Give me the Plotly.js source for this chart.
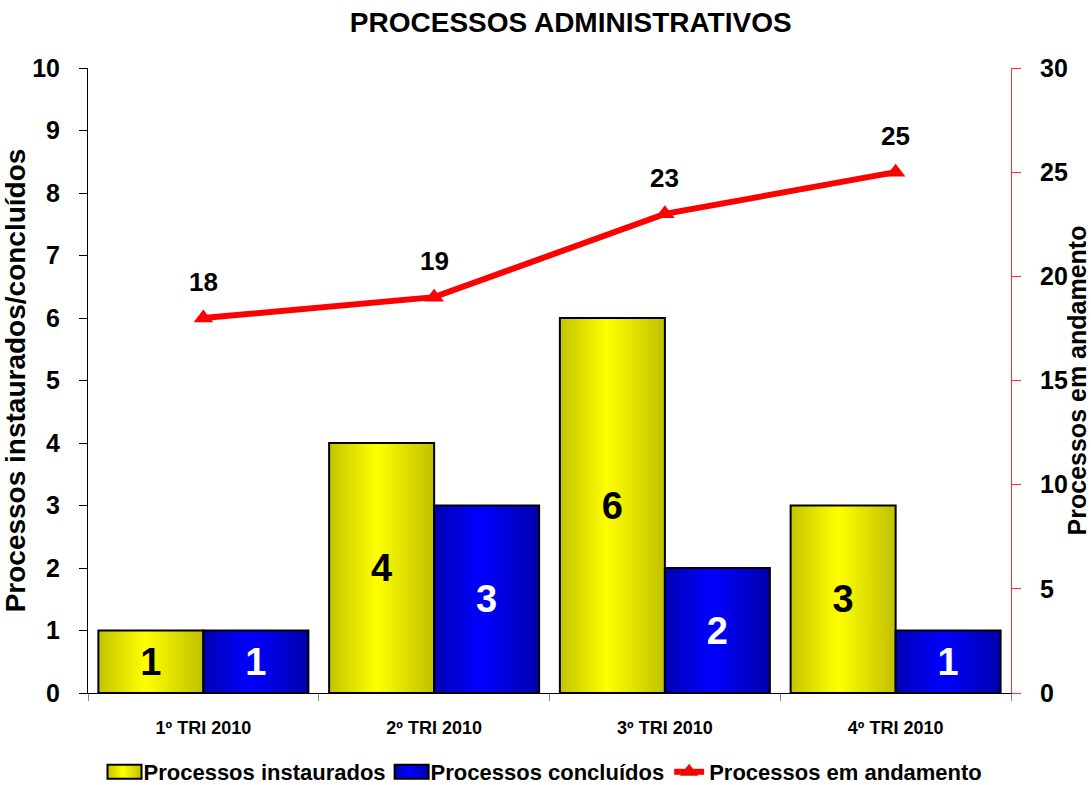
<!DOCTYPE html>
<html>
<head>
<meta charset="utf-8">
<script src="https://cdn.plot.ly/plotly-3.0.1.min.js"></script>
<style>html,body{margin:0;padding:0;background:#fff;}</style>
</head>
<body>
<div id="chart" style="width:1091px;height:785px;"></div>
<script>
const categories = ["1º TRI 2010", "2º TRI 2010", "3º TRI 2010", "4º TRI 2010"];
const instaurados = [1, 4, 6, 3];
const concluidos = [1, 3, 2, 1];
const andamento = [18, 19, 23, 25];

const FONT = '"Liberation Sans", Arial, sans-serif';

const traces = [
  {
    type: 'bar', name: 'Processos instaurados', x: categories, y: instaurados,
    text: instaurados.map(String), textposition: 'inside', insidetextanchor: 'middle',
    textangle: 0, constraintext: 'none',
    textfont: {family: FONT, size: 38, color: '#000', weight: 'bold'},
    marker: {color: '#ffff00', line: {color: '#000', width: 2}},
    hoverinfo: 'none'
  },
  {
    type: 'bar', name: 'Processos concluídos', x: categories, y: concluidos,
    text: concluidos.map(String), textposition: 'inside', insidetextanchor: 'middle',
    textangle: 0, constraintext: 'none',
    textfont: {family: FONT, size: 38, color: '#fff', weight: 'bold'},
    marker: {color: '#0000ff', line: {color: '#000', width: 2}},
    hoverinfo: 'none'
  },
  {
    type: 'scatter', mode: 'lines+markers', name: 'Processos em andamento',
    x: categories, y: andamento, yaxis: 'y2',
    line: {color: '#ff0000', width: 6},
    marker: {symbol: 'triangle-up', size: 17, color: '#ff0000'},
    hoverinfo: 'none'
  }
];

const annotations = categories.map((c, i) => ({
  x: c, y: andamento[i], xref: 'x', yref: 'y2', text: String(andamento[i]),
  showarrow: false, yshift: 36, yanchor: 'middle',
  font: {family: FONT, size: 26, color: '#000', weight: 'bold'}
}));

const layout = {
  width: 1091, height: 785,
  margin: {l: 88, r: 80, t: 68, b: 92, autoexpand: false},
  paper_bgcolor: '#fff', plot_bgcolor: '#fff',
  font: {family: FONT, color: '#000'},
  barmode: 'group', bargap: 0.09, bargroupgap: 0,
  showlegend: true,
  title: {
    text: 'PROCESSOS ADMINISTRATIVOS', xref: 'paper', x: 0.523, xanchor: 'center',
    yref: 'container', y: 1 - 22 / 785, yanchor: 'middle',
    font: {family: FONT, size: 28, color: '#000', weight: 'bold'}
  },
  xaxis: {
    showline: true, linecolor: '#000', linewidth: 1, mirror: false,
    ticks: 'outside', tickson: 'boundaries', ticklen: 7, tickcolor: '#888',
    showgrid: false, zeroline: false,
    tickfont: {family: FONT, size: 18, weight: 'bold', color: '#000'},
    ticklabelstandoff: 18
  },
  yaxis: {
    range: [0, 10], dtick: 1, showline: true, linecolor: '#000', linewidth: 1,
    ticks: 'outside', ticklen: 8, tickcolor: '#000', showgrid: false, zeroline: false,
    tickfont: {family: FONT, size: 25, weight: 'bold', color: '#000'},
    ticklabelstandoff: 14,
    title: {text: 'Processos instaurados/concluídos', standoff: 6,
      font: {family: FONT, size: 28, weight: 'bold', color: '#000'}}
  },
  yaxis2: {
    range: [0, 30], dtick: 5, overlaying: 'y', side: 'right',
    showline: true, linecolor: '#ff3030', linewidth: 1,
    ticks: 'outside', ticklen: 9, tickcolor: '#ff3030', showgrid: false, zeroline: false,
    tickfont: {family: FONT, size: 25, weight: 'bold', color: '#000'},
    ticklabelstandoff: 14,
    title: {text: 'Processos em andamento', standoff: 0,
      font: {family: FONT, size: 25, weight: 'bold', color: '#000'}}
  },
  yaxis3: {
    range: [0, 10], dtick: 1, overlaying: 'y', side: 'left', showline: false,
    ticks: 'inside', ticklen: 8, tickcolor: '#000', showticklabels: false,
    showgrid: false, zeroline: false
  },
  yaxis4: {
    range: [0, 30], dtick: 5, overlaying: 'y', side: 'right', showline: false,
    ticks: 'inside', ticklen: 9, tickcolor: '#ff3030', showticklabels: false,
    showgrid: false, zeroline: false
  },
  legend: {
    orientation: 'h', xref: 'container', x: 0.5, xanchor: 'center',
    yref: 'container', y: 13 / 785, yanchor: 'middle',
    font: {family: FONT, size: 22, weight: 'bold', color: '#000'},
    itemwidth: 30, tracegroupgap: 0, traceorder: 'normal'
  },
  annotations: annotations
};

function addGradients(gd) {
  const svg = gd.querySelector('.main-svg');
  const ns = 'http://www.w3.org/2000/svg';
  let defs = svg.querySelector('defs');
  if (!defs) { defs = document.createElementNS(ns, 'defs'); svg.insertBefore(defs, svg.firstChild); }
  const mk = (id, stops) => {
    const g = document.createElementNS(ns, 'linearGradient');
    g.setAttribute('id', id);
    g.setAttribute('x1', '0'); g.setAttribute('y1', '0');
    g.setAttribute('x2', '1'); g.setAttribute('y2', '0');
    stops.forEach(([o, c]) => {
      const s = document.createElementNS(ns, 'stop');
      s.setAttribute('offset', o); s.setAttribute('stop-color', c);
      g.appendChild(s);
    });
    defs.appendChild(g);
  };
  mk('gradYellow', [['0', '#c4c400'], ['0.45', '#ffff00'], ['1', '#c0c000']]);
  mk('gradBlue', [['0', '#0000b4'], ['0.45', '#0000ff'], ['1', '#0000ac']]);
  const ids = ['gradYellow', 'gradBlue'];
  gd.querySelectorAll('.barlayer .trace').forEach((t, i) => {
    if (ids[i]) t.querySelectorAll('.point path').forEach(p => { p.style.fill = 'url(#' + ids[i] + ')'; });
  });
  gd.querySelectorAll('.legend .traces').forEach((t, i) => {
    if (ids[i]) t.querySelectorAll('.legendpoints path').forEach(p => {
      p.style.fill = 'url(#' + ids[i] + ')';
      p.setAttribute('d', 'M-16,-7h34v14h-34z');
      p.style.stroke = '#000'; p.style.strokeWidth = '2px';
    });
  });
}

Plotly.newPlot('chart', traces, layout, {displayModeBar: false, staticPlot: true}).then(addGradients);
</script>
</body>
</html>
